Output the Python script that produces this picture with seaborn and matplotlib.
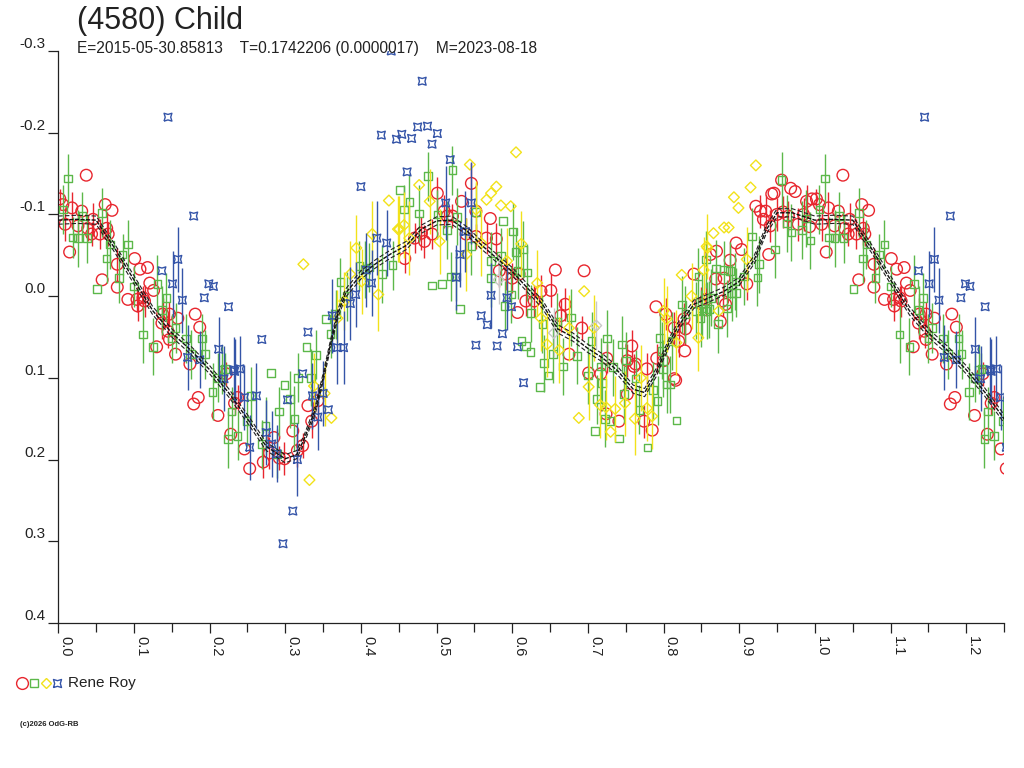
import numpy as np
import matplotlib
matplotlib.use("Agg")
import matplotlib.pyplot as plt
import seaborn as sns
from matplotlib.lines import Line2D
from matplotlib.ticker import MultipleLocator

# ---------------- data (phase, magnitude, error) ----------------
red_phase = [0.037, 0.002, 0.006, 0.018, 0.031, 0.062, 0.071, 0.009, 0.026, 0.039, 0.046, 0.015, 0.044, 0.064, 0.066, 0.055,
             0.078, 0.101, 0.108, 0.118, 0.058, 0.078, 0.092, 0.104, 0.114, 0.121, 0.126, 0.105, 0.112, 0.138, 0.147, 0.137,
             0.145, 0.147, 0.158, 0.181, 0.187, 0.130, 0.155, 0.174, 0.179, 0.185, 0.211, 0.228, 0.222, 0.233, 0.237, 0.246,
             0.253, 0.271, 0.285, 0.279, 0.310, 0.316, 0.323, 0.330, 0.335, 0.299, 0.292, 0.343, 0.458, 0.501, 0.546, 0.533,
             0.571, 0.552, 0.510, 0.514, 0.521, 0.471, 0.480, 0.494, 0.484, 0.539, 0.552, 0.566, 0.579, 0.583, 0.592, 0.600,
             0.609, 0.657, 0.638, 0.651, 0.618, 0.629, 0.607, 0.670, 0.664, 0.675, 0.692, 0.701, 0.717, 0.725, 0.752, 0.758,
             0.763, 0.778, 0.741, 0.724, 0.774, 0.785, 0.752, 0.790, 0.791, 0.800, 0.816, 0.803, 0.814, 0.828, 0.820, 0.827,
             0.840, 0.862, 0.870, 0.896, 0.888, 0.869, 0.878, 0.875, 0.856, 0.849, 0.761, 0.922, 0.928, 0.935, 0.932, 0.943,
             0.946, 0.956, 0.968, 0.974, 0.989, 0.996, 0.903, 0.939, 0.941, 0.880, 0.910, 0.882, 0.829, 0.814, 0.695, 0.950,
             0.958, 0.965, 0.978, 0.985, 0.993]
red_mag = [-0.148, -0.119, -0.112, -0.108, -0.104, -0.112, -0.105, -0.088, -0.086, -0.083, -0.094, -0.054, -0.076, -0.083, -0.076, -0.076,
           -0.039, -0.046, -0.033, -0.035, -0.020, -0.011, 0.004, 0.004, 0.006, -0.016, -0.007, 0.012, 0.002, 0.022, 0.022, 0.033,
           0.043, 0.053, 0.027, 0.022, 0.038, 0.062, 0.071, 0.083, 0.132, 0.124, 0.146, 0.169, 0.095, 0.131, 0.124, 0.187,
           0.211, 0.203, 0.173, 0.192, 0.165, 0.189, 0.183, 0.134, 0.153, 0.199, 0.198, 0.128, -0.046, -0.126, -0.138, -0.116,
           -0.095, -0.104, -0.104, -0.098, -0.098, -0.071, -0.077, -0.076, -0.067, -0.076, -0.073, -0.071, -0.070, -0.031, -0.027, -0.022,
           -0.027, -0.032, -0.006, -0.007, 0.006, 0.006, 0.020, 0.010, 0.024, 0.071, 0.039, 0.094, 0.095, 0.076, 0.079, 0.061,
           0.083, 0.089, 0.153, 0.144, 0.153, 0.164, 0.120, 0.013, 0.076, 0.079, 0.103, 0.022, 0.039, 0.067, 0.055, 0.028,
           -0.027, -0.051, -0.055, -0.065, -0.044, -0.021, 0.006, 0.031, 0.004, 0.009, 0.086, -0.110, -0.104, -0.104, -0.094, -0.125,
           -0.126, -0.142, -0.132, -0.128, -0.116, -0.119, -0.057, -0.051, -0.086, -0.022, -0.015, 0.010, 0.040, 0.101, -0.031, -0.100,
           -0.103, -0.098, -0.088, -0.100, -0.085]
red_err = [0, 0.012, 0, 0.02, 0, 0, 0, 0.02, 0.018, 0.015, 0.02, 0, 0.015, 0.02, 0.015, 0.018,
           0.02, 0, 0, 0, 0, 0, 0, 0.015, 0.02, 0, 0, 0.018, 0.015, 0.02, 0.015, 0.02,
           0.02, 0, 0, 0, 0, 0, 0, 0, 0, 0, 0, 0, 0.015, 0.015, 0.015, 0,
           0, 0.02, 0, 0.02, 0, 0.02, 0.015, 0, 0.02, 0.02, 0.015, 0.02, 0.018, 0.02, 0.025, 0,
           0, 0, 0.02, 0.015, 0.015, 0.018, 0.02, 0.018, 0.02, 0.02, 0.015, 0.02, 0.02, 0.02, 0.02, 0.018,
           0, 0, 0.02, 0.02, 0.018, 0.02, 0, 0.02, 0.02, 0, 0.015, 0, 0.02, 0.018, 0.02, 0.02,
           0, 0.02, 0, 0, 0.02, 0, 0, 0, 0.018, 0, 0, 0.02, 0.02, 0, 0.02, 0.02,
           0, 0, 0, 0, 0.02, 0.015, 0.02, 0, 0.02, 0.02, 0.015, 0, 0.02, 0.02, 0, 0,
           0, 0, 0, 0, 0.02, 0, 0, 0, 0.02, 0, 0.02, 0, 0.02, 0, 0, 0.02,
           0.02, 0.018, 0.02, 0.02, 0]

green_phase = [0.013, 0.006, 0.058, 0.032, 0.019, 0.026, 0.038, 0.068, 0.064, 0.092, 0.085, 0.051, 0.080, 0.100, 0.131, 0.143,
               0.137, 0.112, 0.125, 0.155, 0.169, 0.190, 0.194, 0.176, 0.204, 0.217, 0.211, 0.229, 0.224, 0.150, 0.237, 0.220,
               0.255, 0.249, 0.269, 0.274, 0.281, 0.299, 0.292, 0.306, 0.312, 0.289, 0.317, 0.328, 0.341, 0.334, 0.354, 0.360,
               0.367, 0.373, 0.381, 0.398, 0.405, 0.411, 0.428, 0.442, 0.452, 0.457, 0.521, 0.489, 0.464, 0.477, 0.501, 0.527,
               0.514, 0.552, 0.588, 0.601, 0.546, 0.572, 0.585, 0.605, 0.614, 0.572, 0.526, 0.519, 0.494, 0.507, 0.531, 0.598,
               0.590, 0.607, 0.620, 0.625, 0.640, 0.659, 0.678, 0.612, 0.618, 0.624, 0.642, 0.654, 0.667, 0.648, 0.637, 0.686,
               0.705, 0.725, 0.700, 0.712, 0.719, 0.717, 0.733, 0.745, 0.750, 0.763, 0.748, 0.723, 0.729, 0.709, 0.741, 0.768,
               0.779, 0.786, 0.792, 0.799, 0.795, 0.804, 0.817, 0.824, 0.846, 0.851, 0.860, 0.849, 0.869, 0.880, 0.872, 0.890,
               0.896, 0.863, 0.884, 0.956, 0.963, 0.969, 0.983, 0.994, 0.988, 0.947, 0.917, 0.926, 0.924, 0.895, 0.888, 0.856,
               0.906, 0.857, 0.843, 0.829, 0.811, 0.798, 0.809]
green_mag = [-0.144, -0.106, -0.102, -0.098, -0.072, -0.071, -0.071, -0.063, -0.046, -0.063, -0.051, -0.009, -0.022, -0.012, -0.015, 0.002,
             0.017, 0.047, 0.062, 0.039, 0.052, 0.052, 0.071, 0.071, 0.117, 0.090, 0.100, 0.141, 0.175, 0.052, 0.171, 0.089,
             0.122, 0.153, 0.181, 0.159, 0.094, 0.109, 0.141, 0.126, 0.150, 0.193, 0.100, 0.062, 0.072, 0.100, 0.028, 0.046,
             0.022, -0.017, 0.000, -0.037, -0.033, -0.035, -0.027, -0.038, -0.130, -0.106, -0.154, -0.147, -0.115, -0.101, -0.100, -0.097,
             -0.081, -0.103, -0.092, -0.079, -0.061, -0.043, -0.049, -0.054, -0.057, -0.022, -0.024, -0.024, -0.013, -0.015, 0.016, -0.002,
             0.012, -0.031, -0.029, 0.021, 0.034, 0.031, 0.026, 0.055, 0.061, 0.068, 0.082, 0.071, 0.086, 0.097, 0.111, 0.073,
             0.055, 0.052, 0.097, 0.126, 0.106, 0.086, 0.087, 0.059, 0.079, 0.101, 0.120, 0.150, 0.153, 0.165, 0.174, 0.139,
             0.185, 0.115, 0.128, 0.089, 0.051, 0.108, 0.152, 0.010, -0.024, 0.015, 0.016, 0.027, -0.034, -0.032, 0.034, -0.004,
             -0.004, 0.002, 0.015, -0.142, -0.089, -0.078, -0.081, -0.068, -0.095, -0.057, -0.073, -0.039, -0.023, -0.018, -0.031, -0.045,
             -0.024, 0.018, 0.018, 0.022, 0.055, 0.067, 0.108]
green_err = [0.03, 0.03, 0.03, 0.03, 0.025, 0.035, 0.03, 0.03, 0.03, 0.03, 0.025, 0, 0.03, 0.025, 0.035, 0.03,
             0.03, 0.035, 0.035, 0.03, 0.03, 0.03, 0.03, 0.03, 0.035, 0.03, 0.03, 0.03, 0.035, 0.03, 0.03, 0.02,
             0.035, 0.03, 0.03, 0.035, 0, 0, 0.03, 0.035, 0.04, 0.03, 0.03, 0, 0.03, 0.035, 0, 0.03,
             0.03, 0.03, 0.03, 0.03, 0.035, 0.03, 0.035, 0.03, 0, 0.03, 0.03, 0.03, 0.035, 0.035, 0.03, 0.035,
             0.035, 0.035, 0, 0.035, 0.035, 0.035, 0.035, 0.03, 0.035, 0.035, 0.03, 0.03, 0, 0, 0, 0.035,
             0.03, 0.035, 0.035, 0.035, 0.035, 0.035, 0.035, 0, 0, 0, 0.035, 0.035, 0.035, 0, 0, 0.035,
             0.035, 0.035, 0.035, 0.03, 0.035, 0.035, 0.035, 0.035, 0.035, 0.035, 0.035, 0.035, 0, 0, 0, 0.03,
             0, 0.035, 0.03, 0.035, 0.035, 0.035, 0, 0.035, 0.035, 0.035, 0.035, 0.035, 0.035, 0.035, 0.035, 0.035,
             0.03, 0.035, 0.035, 0.035, 0.035, 0.035, 0.035, 0.035, 0.035, 0.035, 0.035, 0.035, 0.035, 0.035, 0.035, 0.035,
             0.035, 0.035, 0.035, 0.035, 0.035, 0.035, 0.035]

yellow_phase = [0.324, 0.332, 0.361, 0.352, 0.338, 0.394, 0.415, 0.386, 0.423, 0.401, 0.437, 0.449, 0.378, 0.369, 0.605, 0.544,
                0.477, 0.579, 0.572, 0.566, 0.585, 0.598, 0.552, 0.491, 0.451, 0.457, 0.464, 0.504, 0.539, 0.559, 0.612, 0.593,
                0.633, 0.638, 0.646, 0.662, 0.675, 0.695, 0.708, 0.688, 0.701, 0.716, 0.724, 0.736, 0.730, 0.749, 0.762, 0.778,
                0.785, 0.770, 0.824, 0.837, 0.846, 0.857, 0.873, 0.800, 0.922, 0.915, 0.893, 0.899, 0.866, 0.880, 0.886, 0.858,
                0.853, 0.804, 0.817, 0.910]
yellow_mag = [-0.039, 0.225, 0.149, 0.119, 0.110, -0.059, -0.076, -0.027, -0.002, -0.018, -0.117, -0.082, 0.006, 0.027, -0.176, -0.161,
              -0.136, -0.134, -0.126, -0.118, -0.111, -0.110, -0.106, -0.116, -0.082, -0.087, -0.071, -0.067, -0.051, -0.065, -0.064, -0.043,
              -0.016, 0.027, 0.059, 0.066, 0.039, -0.006, 0.039, 0.149, 0.111, 0.133, 0.136, 0.138, 0.166, 0.131, 0.150, 0.137,
              0.147, 0.100, -0.026, 0.000, 0.051, -0.061, 0.018, 0.018, -0.160, -0.133, -0.121, -0.108, -0.077, -0.084, -0.084, -0.059,
              -0.032, 0.028, 0.057, -0.045]
yellow_err = [0, 0, 0, 0.04, 0.04, 0.04, 0.04, 0.04, 0.045, 0.04, 0, 0.04, 0.035, 0.035, 0, 0,
              0, 0, 0, 0, 0, 0, 0.035, 0.04, 0.04, 0.04, 0.045, 0.04, 0.045, 0.04, 0.04, 0.04,
              0.04, 0.04, 0.04, 0.04, 0.04, 0, 0.04, 0, 0.04, 0.04, 0.04, 0.04, 0, 0.04, 0.045, 0.04,
              0.04, 0.04, 0, 0.04, 0.04, 0.04, 0, 0.04, 0, 0, 0, 0, 0, 0, 0, 0,
              0.04, 0.04, 0.04, 0.04]

blue_phase = [0.145, 0.179, 0.137, 0.158, 0.151, 0.164, 0.193, 0.199, 0.205, 0.225, 0.212, 0.171, 0.187, 0.219, 0.233, 0.269,
              0.330, 0.232, 0.240, 0.246, 0.262, 0.253, 0.275, 0.282, 0.289, 0.303, 0.316, 0.323, 0.310, 0.297, 0.336, 0.343,
              0.350, 0.357, 0.362, 0.369, 0.377, 0.386, 0.393, 0.400, 0.414, 0.407, 0.421, 0.434, 0.427, 0.447, 0.454, 0.481,
              0.475, 0.488, 0.467, 0.501, 0.494, 0.518, 0.461, 0.512, 0.546, 0.538, 0.531, 0.526, 0.572, 0.593, 0.599, 0.559,
              0.567, 0.587, 0.552, 0.580, 0.607, 0.615, 0.440]
blue_mag = [-0.219, -0.098, -0.031, -0.045, -0.015, 0.005, 0.002, -0.015, -0.012, 0.013, 0.065, 0.075, 0.078, 0.101, 0.092, 0.053,
            0.044, 0.090, 0.089, 0.124, 0.122, 0.185, 0.167, 0.181, 0.193, 0.127, 0.200, 0.095, 0.263, 0.303, 0.122, 0.148,
            0.119, 0.139, 0.024, 0.063, 0.063, 0.009, -0.002, -0.134, -0.016, -0.032, -0.071, -0.065, -0.197, -0.192, -0.198, -0.263,
            -0.207, -0.208, -0.193, -0.199, -0.186, -0.167, -0.152, -0.114, -0.114, -0.079, -0.051, -0.023, -0.001, 0.002, 0.013, 0.024,
            0.035, 0.046, 0.060, 0.061, 0.062, 0.106, -0.300]
blue_err = [0, 0, 0, 0.04, 0.04, 0.04, 0, 0, 0, 0, 0.04, 0.04, 0.035, 0.04, 0.04, 0,
            0, 0.04, 0.04, 0.04, 0.04, 0.04, 0.04, 0.04, 0.035, 0, 0.045, 0, 0, 0, 0.04, 0.04,
            0.04, 0, 0.045, 0.045, 0.045, 0.045, 0.04, 0, 0.04, 0.045, 0.045, 0.04, 0, 0, 0, 0,
            0, 0, 0, 0, 0, 0, 0, 0.045, 0.05, 0.05, 0.04, 0.04, 0.04, 0.04, 0, 0,
            0, 0, 0, 0, 0, 0, 0]

gray_phase = [0.711, 0.582, 0.655]
gray_mag = [0.036, -0.020, 0.045]
gray_err = [0.03, 0.03, 0.03]

curve_phase = [0.00, 0.025, 0.05, 0.075, 0.10, 0.125, 0.15, 0.175, 0.20, 0.225, 0.25, 0.275, 0.30, 0.315, 0.325, 0.34,
               0.35, 0.36, 0.37, 0.38, 0.40, 0.42, 0.44, 0.46, 0.48, 0.50, 0.52, 0.54, 0.56, 0.58, 0.60, 0.62,
               0.64, 0.66, 0.68, 0.70, 0.72, 0.74, 0.76, 0.775, 0.79, 0.80, 0.81, 0.82, 0.84, 0.86, 0.88, 0.90,
               0.92, 0.935, 0.95, 0.97, 0.99]
curve_mag = [-0.093, -0.094, -0.093, -0.058, -0.020, 0.018, 0.045, 0.066, 0.090, 0.118, 0.150, 0.184, 0.199, 0.194, 0.175, 0.138,
             0.100, 0.058, 0.020, -0.004, -0.026, -0.040, -0.052, -0.062, -0.082, -0.092, -0.093, -0.080, -0.062, -0.046, -0.030, -0.010,
             0.010, 0.040, 0.050, 0.064, 0.076, 0.092, 0.114, 0.118, 0.094, 0.072, 0.052, 0.036, 0.010, 0.002, -0.006, -0.018,
             -0.045, -0.080, -0.102, -0.102, -0.096]
curve_sigma = 0.005

x_ticks = [0.0, 0.1, 0.2, 0.3, 0.4, 0.5, 0.6, 0.7, 0.8, 0.9, 1.0, 1.1, 1.2]
x_labels = ["0.0", "0.1", "0.2", "0.3", "0.4", "0.5", "0.6", "0.7", "0.8", "0.9", "1.0", "1.1", "1.2"]
y_ticks = [-0.3, -0.2, -0.1, 0.0, 0.1, 0.2, 0.3, 0.4]
y_labels = ["-0.3", "-0.2", "-0.1", "0.0", "0.1", "0.2", "0.3", "0.4"]

title = "(4580) Child"
subtitle = "E=2015-05-30.85813    T=0.1742206 (0.0000017)    M=2023-08-18"
observer = "Rene Roy"
credit = "(c)2026 OdG-RB"

RED, GREEN, YELLOW, BLUE, GRAY = "#e8262e", "#5cb84a", "#f2e21a", "#3454a8", "#c8c8c8"
STAR = [(-1, -1), (0, -0.7), (1, -1), (0.7, 0), (1, 1), (0, 0.7), (-1, 1), (-0.7, 0), (-1, -1)]

# ---------------- figure ----------------
sns.set_style("ticks")
plt.rcParams['font.family'] = ['Liberation Sans', 'DejaVu Sans']

fig = plt.figure(figsize=(10.24, 7.68), dpi=100)
ax = fig.add_axes([0.0569, 0.1888, 0.9236, 0.7448])


def draw(ph, mg, er, color, marker, size, z):
    ph = np.asarray(ph, float)
    mg = np.asarray(mg, float)
    er = np.asarray(er, float)
    x = np.concatenate([ph, ph + 1.0])
    y = np.concatenate([mg, mg])
    e = np.concatenate([er, er])
    m = e > 0
    ax.vlines(x[m], y[m] - e[m], y[m] + e[m], color=color, lw=1.0, zorder=z)
    sns.scatterplot(x=x, y=y, ax=ax, marker=marker, s=size, facecolor="none",
                    edgecolor=color, linewidth=1.0, zorder=z + 0.5, legend=False)


draw(red_phase, red_mag, red_err, RED, "o", 70, 2)
draw(green_phase, green_mag, green_err, GREEN, "s", 30, 3)
draw(yellow_phase, yellow_mag, yellow_err, YELLOW, "D", 30, 4)
draw(gray_phase, gray_mag, gray_err, GRAY, "D", 30, 4.2)
draw(blue_phase, blue_mag, blue_err, BLUE, STAR, 32, 5)

cp = np.asarray(curve_phase)
cm = np.asarray(curve_mag)
cx = np.concatenate([cp, cp + 1.0])
cy = np.concatenate([cm, cm])
sns.lineplot(x=cx, y=cy, ax=ax, color="#111111", lw=1.0, estimator=None, sort=True, zorder=10,
             dashes=False, linestyle=(0, (3, 1)))
sns.lineplot(x=cx, y=cy - curve_sigma, ax=ax, color="#222222", lw=0.8, estimator=None, sort=True, zorder=10,
             dashes=False, linestyle=(0, (4, 2)))
sns.lineplot(x=cx, y=cy + curve_sigma, ax=ax, color="#222222", lw=0.8, estimator=None, sort=True, zorder=10,
             dashes=False, linestyle=(0, (4, 2)))

ax.set_xlim(0, 1.25)
ax.set_ylim(0.4, -0.3)
ax.set_xlabel("")
ax.set_ylabel("")
ax.set_xticks(x_ticks)
ax.set_xticklabels(x_labels)
ax.xaxis.set_minor_locator(MultipleLocator(0.05))
ax.set_yticks(y_ticks)
ax.set_yticklabels(y_labels)

sns.despine(ax=ax)
for sp in ("left", "bottom"):
    ax.spines[sp].set_color("#222222")
    ax.spines[sp].set_linewidth(0.9)

ax.tick_params(axis="x", which="major", length=7.5, width=0.9, color="#222222", pad=2,
               labelsize=10.5, labelcolor="#222222")
ax.tick_params(axis="x", which="minor", length=6.5, width=0.9, color="#222222")
ax.tick_params(axis="y", which="major", length=7.5, width=0.9, color="#222222", pad=2,
               labelsize=11, labelcolor="#222222")
for t in ax.get_xticklabels():
    t.set_rotation(-90)
    t.set_horizontalalignment("left")
    t.set_verticalalignment("top")
for t in ax.get_yticklabels():
    t.set_verticalalignment("bottom")

# texts
fig.text(77 / 1024, 1 - 21 / 768, title, fontsize=22, va="center", ha="left", color="#222222")
fig.text(77 / 1024, 1 - 48 / 768, subtitle, fontsize=11.2, va="center", ha="left", color="#222222")

# legend row
ly = 1 - 683 / 768
fig.add_artist(Line2D([22 / 1024], [ly], transform=fig.transFigure, marker="o", ms=8.5, mfc="none", mec=RED, mew=1.0, ls="none"))
fig.add_artist(Line2D([34 / 1024], [ly], transform=fig.transFigure, marker="s", ms=5.5, mfc="none", mec=GREEN, mew=1.0, ls="none"))
fig.add_artist(Line2D([46 / 1024], [ly], transform=fig.transFigure, marker="D", ms=5.5, mfc="none", mec=YELLOW, mew=1.0, ls="none"))
fig.add_artist(Line2D([57 / 1024], [ly], transform=fig.transFigure, marker=STAR, ms=5.8, mfc="none", mec=BLUE, mew=1.0, ls="none"))
fig.text(68 / 1024, ly, observer, fontsize=11, va="center", ha="left", color="#222222")
fig.text(20 / 1024, 1 - 725 / 768, credit, fontsize=5.5, va="center", ha="left", color="#222222", fontweight="bold")

fig.savefig("out.png", dpi=100)
